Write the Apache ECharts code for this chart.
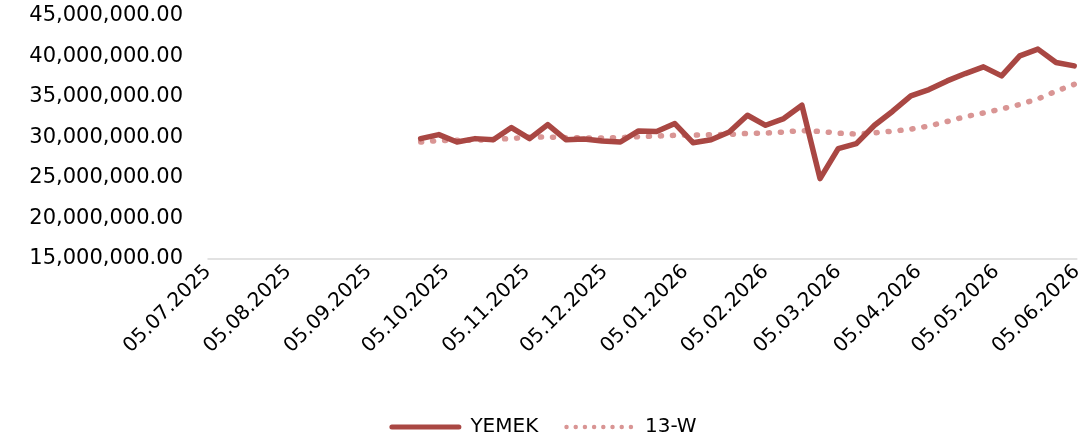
<!DOCTYPE html>
<html>
<head>
<meta charset="utf-8">
<script src="https://cdn.jsdelivr.net/npm/echarts@6/dist/echarts.min.js"></script>
<style>
html,body{margin:0;padding:0;background:#fff;}
#chart{width:1086px;height:445px;}
</style>
</head>
<body>
<div id="chart"></div>
<script>
const dates = [
  '2025-09-25','2025-10-02','2025-10-09','2025-10-16','2025-10-23','2025-10-30',
  '2025-11-06','2025-11-13','2025-11-20','2025-11-27','2025-12-04','2025-12-11',
  '2025-12-18','2025-12-25','2026-01-01','2026-01-08','2026-01-15','2026-01-22',
  '2026-01-29','2026-02-05','2026-02-12','2026-02-19','2026-02-26','2026-03-05',
  '2026-03-12','2026-03-19','2026-03-26','2026-04-02','2026-04-09','2026-04-16',
  '2026-04-23','2026-04-30','2026-05-07','2026-05-14','2026-05-21','2026-05-28',
  '2026-06-04'
];
const yemek = [
  29.83, 30.33, 29.41, 29.83, 29.70, 31.20, 29.83, 31.57, 29.70, 29.78,
  29.53, 29.41, 30.78, 30.70, 31.69, 29.33, 29.70, 30.65, 32.72, 31.48,
  32.31, 33.96, 24.88, 28.59, 29.21, 31.48, 33.22, 35.11, 35.90, 36.97,
  37.88, 38.71, 37.59, 40.07, 40.90, 39.25, 38.83
].map(v => v * 1e6);
const w13 = [
  29.41, 29.60, 29.62, 29.65, 29.72, 29.85, 30.00, 30.03, 29.95, 29.91,
  29.91, 29.95, 30.08, 30.15, 30.24, 30.26, 30.30, 30.36, 30.47, 30.52,
  30.65, 30.82, 30.72, 30.50, 30.40, 30.55, 30.75, 31.00, 31.40, 31.95,
  32.55, 33.00, 33.50, 34.05, 34.75, 35.70, 36.55
].map(v => v * 1e6);
const xTickLabels = [
  '05.07.2025','05.08.2025','05.09.2025','05.10.2025','05.11.2025','05.12.2025',
  '05.01.2026','05.02.2026','05.03.2026','05.04.2026','05.05.2026','05.06.2026'
];
const seriesNames = ['YEMEK', '13-W'];

function parseISO(s){ const p = s.split('-').map(Number); return Date.UTC(p[0], p[1]-1, p[2]); }
function parseDMY(s){ const p = s.split('.').map(Number); return Date.UTC(p[2], p[1]-1, p[0]); }
function pad(n){ return (n < 10 ? '0' : '') + n; }
function fmtDate(ts){ const d = new Date(ts); return pad(d.getUTCDate()) + '.' + pad(d.getUTCMonth()+1) + '.' + d.getUTCFullYear(); }
function fmtNum(v){ return v.toLocaleString('en-US', {minimumFractionDigits: 2, maximumFractionDigits: 2}); }

const tickTs = xTickLabels.map(parseDMY);
const FONT = 'DejaVu Sans';
const C1 = '#a94743', C2 = '#d99594';

// legend icons (shapes only)
const solidIcon = 'path://M2.5,0H69.5A2.5,2.5 0 0 1 69.5,5H2.5A2.5,2.5 0 0 1 2.5,0Z';
let dots = '';
for (let k = 0; k < 8; k++) {
  const cx = 2.25 + k * 9.2;
  dots += 'M' + (cx - 2.25) + ',2.5A2.25,2.25 0 1 0 ' + (cx + 2.25) + ',2.5A2.25,2.25 0 1 0 ' + (cx - 2.25) + ',2.5Z';
}
const dotIcon = 'path://M0,0M71.4,5' + dots;

const chart = echarts.init(document.getElementById('chart'), null, {renderer: 'canvas'});
chart.setOption({
  animation: false,
  backgroundColor: '#fff',
  textStyle: {fontFamily: FONT},
  grid: {left: 208, right: 9, top: 16, bottom: 186.5},
  xAxis: {
    type: 'value',
    min: tickTs[0],
    max: tickTs[tickTs.length - 1],
    axisLine: {show: true, lineStyle: {color: '#d9d9d9', width: 1.5}},
    axisTick: {show: false},
    splitLine: {show: false},
    axisLabel: {
      customValues: tickTs,
      rotate: 45,
      margin: 10,
      fontSize: 20,
      fontFamily: FONT,
      color: '#000',
      hideOverlap: false,
      showMinLabel: true,
      showMaxLabel: true,
      formatter: v => fmtDate(v)
    }
  },
  yAxis: {
    type: 'value',
    min: 15e6,
    max: 45e6,
    interval: 5e6,
    axisLine: {show: false},
    axisTick: {show: false},
    splitLine: {show: false},
    axisLabel: {
      margin: 25,
      fontSize: 21,
      fontFamily: FONT,
      color: '#000',
      formatter: v => fmtNum(v)
    }
  },
  legend: {
    bottom: 3,
    left: 'center',
    itemWidth: 72,
    itemHeight: 5,
    itemGap: 26,
    textStyle: {fontSize: 20, fontFamily: FONT, color: '#000', padding: [0, 0, 0, 4]},
    data: [
      {name: seriesNames[0], icon: solidIcon, itemStyle: {color: C1}},
      {name: seriesNames[1], icon: dotIcon, itemStyle: {color: C2}}
    ]
  },
  series: [
    {
      name: seriesNames[0],
      type: 'line',
      data: dates.map((d, i) => [parseISO(d), yemek[i]]),
      showSymbol: false,
      symbol: 'none',
      lineStyle: {color: C1, width: 5.5, join: 'round', cap: 'round'},
      itemStyle: {color: C1},
      z: 3
    },
    {
      name: seriesNames[1],
      type: 'line',
      data: dates.map((d, i) => [parseISO(d), w13[i]]),
      showSymbol: false,
      symbol: 'none',
      lineStyle: {color: C2, width: 5.5, type: [1, 11], cap: 'round', join: 'round'},
      itemStyle: {color: C2},
      z: 2
    }
  ]
});
</script>
</body>
</html>
